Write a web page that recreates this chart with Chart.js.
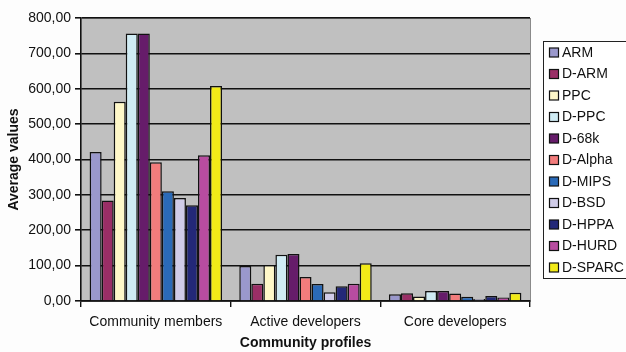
<!DOCTYPE html>
<html>
<head>
<meta charset="utf-8">
<script src="https://cdn.jsdelivr.net/npm/chart.js@4"></script>
<style>
  html, body { margin: 0; padding: 0; background: #fdfdfd; }
  #wrap { width: 626px; height: 352px; }
</style>
</head>
<body>
<div id="wrap"><canvas id="chart" width="626" height="352"></canvas></div>
<script>
// categories and series
var profiles = ['Community members', 'Active developers', 'Core developers'];
var seriesNames = ['ARM', 'D-ARM', 'PPC', 'D-PPC', 'D-68k', 'D-Alpha', 'D-MIPS', 'D-BSD', 'D-HPPA', 'D-HURD', 'D-SPARC'];
var ARM     = [421, 99, 19];
var D_ARM   = [284, 49, 22];
var PPC     = [563, 102, 13];
var D_PPC   = [756, 131, 28];
var D_68k   = [756, 133, 28];
var D_Alpha = [392, 68, 21];
var D_MIPS  = [310, 48, 12];
var D_BSD   = [291, 25, 6];
var D_HPPA  = [271, 42, 14];
var D_HURD  = [412, 49, 10];
var D_SPARC = [608, 107, 23];
var yTicks = [0, 100, 200, 300, 400, 500, 600, 700, 800];

var values = [ARM, D_ARM, PPC, D_PPC, D_68k, D_Alpha, D_MIPS, D_BSD, D_HPPA, D_HURD, D_SPARC];
var colors = ['#9a98cc', '#9a2e66', '#fff8c8', '#d0ecf4', '#661c6a', '#f27c7c',
              '#2a6ab8', '#d0cce8', '#232878', '#b84ca0', '#f2ea18'];

var datasets = seriesNames.map(function(name, i){
  return {
    label: name,
    data: values[i],
    backgroundColor: colors[i],
    borderColor: '#111',
    borderWidth: 1.5
  };
});

var FONT = "'Liberation Sans', Arial, sans-serif";

// grey plot background
var plotBg = {
  id: 'plotBg',
  beforeDraw: function(chart){
    var a = chart.chartArea, ctx = chart.ctx;
    ctx.save();
    ctx.fillStyle = '#c0c0c0';
    ctx.fillRect(a.left, a.top, a.right - a.left, a.bottom - a.top);
    ctx.strokeStyle = '#8a8a8a';
    ctx.lineWidth = 1;
    ctx.strokeRect(a.left + 0.5, a.top + 0.5, a.right - a.left, a.bottom - a.top);
    ctx.restore();
  }
};

// boxed legend on the right, built from the datasets
var boxLegend = {
  id: 'boxLegend',
  afterDraw: function(chart){
    var ctx = chart.ctx;
    var x = 543, y = 41, w = 90, h = 237, step = 21.5;
    ctx.save();
    ctx.fillStyle = '#ffffff';
    ctx.fillRect(x, y, w, h);
    ctx.strokeStyle = '#222';
    ctx.lineWidth = 1;
    ctx.strokeRect(x + 0.5, y + 0.5, w, h);
    ctx.font = '14px ' + FONT;
    ctx.textBaseline = 'middle';
    chart.data.datasets.forEach(function(ds, i){
      var cy = 52.5 + i * step;
      ctx.fillStyle = ds.backgroundColor;
      ctx.fillRect(549.5, cy - 4.5, 9, 9);
      ctx.strokeStyle = '#111';
      ctx.lineWidth = 1.2;
      ctx.strokeRect(549.5, cy - 4.5, 9, 9);
      ctx.fillStyle = '#111';
      ctx.fillText(ds.label, 562, cy + 0.5);
    });
    ctx.restore();
  }
};

new Chart(document.getElementById('chart').getContext('2d'), {
  type: 'bar',
  data: { labels: profiles, datasets: datasets },
  plugins: [plotBg, boxLegend],
  options: {
    responsive: false,
    animation: false,
    layout: { padding: { left: 6, right: 96, top: 18, bottom: 0 } },
    datasets: { bar: { categoryPercentage: 0.885, barPercentage: 1 } },
    plugins: { legend: { display: false }, tooltip: { enabled: false } },
    scales: {
      x: {
        afterFit: function(s){ s.height = 51; },
        grid: { offset: true, drawOnChartArea: false, color: '#111', tickLength: 6, lineWidth: 1.4 },
        border: { color: '#111', width: 1.4 },
        ticks: { color: '#111', font: { family: FONT, size: 14 }, padding: 7 },
        title: { display: true, text: 'Community profiles', color: '#111',
                 font: { family: FONT, size: 14, weight: 'bold' }, padding: { top: 8, bottom: 0 } }
      },
      y: {
        min: 0, max: 800,
        afterFit: function(s){ s.width = 75; },
        afterBuildTicks: function(s){ s.ticks = yTicks.map(function(v){ return { value: v }; }); },
        grid: { color: '#111', lineWidth: 1.6, tickLength: 6 },
        border: { color: '#111', width: 1.4 },
        ticks: {
          color: '#111', font: { family: FONT, size: 14 }, padding: 4,
          callback: function(v){ return v.toFixed(2).replace('.', ','); }
        },
        title: { display: true, text: 'Average values', color: '#111',
                 font: { family: FONT, size: 14, weight: 'bold' }, padding: { top: 0, bottom: 4 } }
      }
    }
  }
});
</script>
</body>
</html>
